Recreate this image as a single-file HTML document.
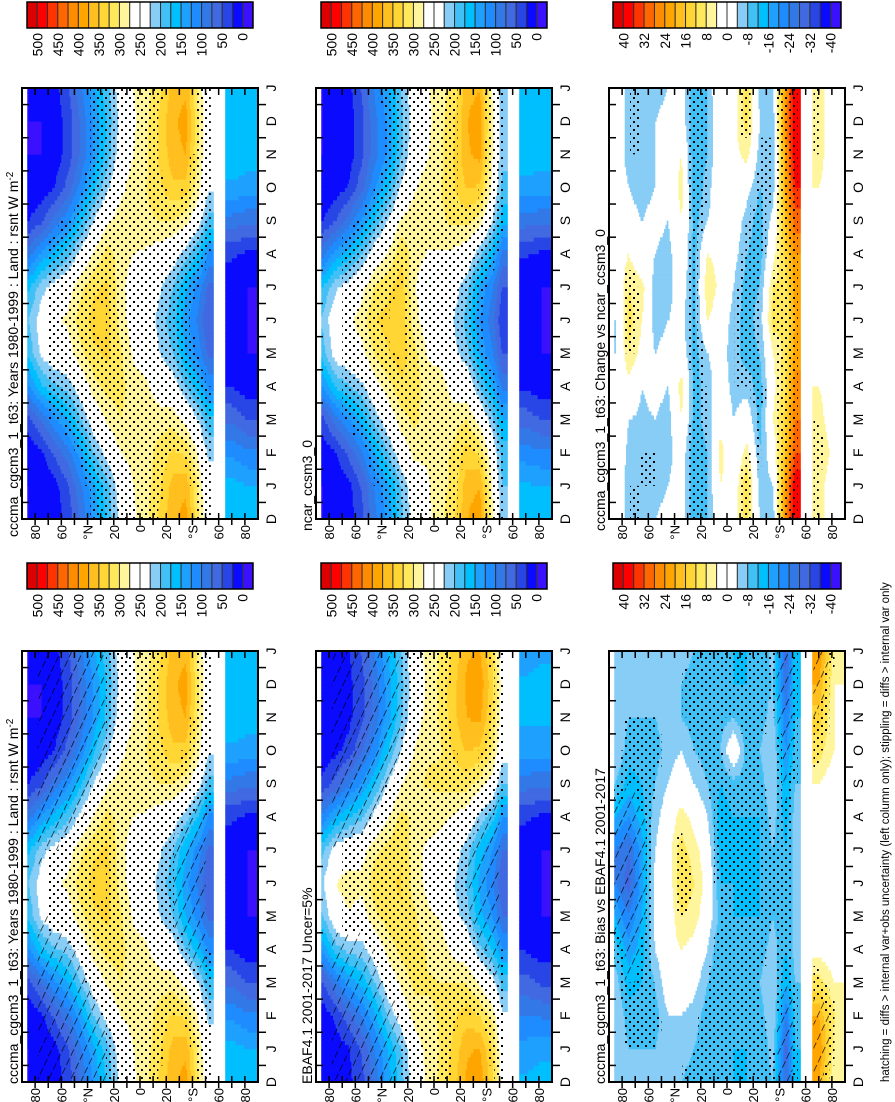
<!DOCTYPE html>
<html><head><meta charset="utf-8">
<style>
html,body{margin:0;padding:0;background:#fff;}
svg{display:block;font-family:"Liberation Sans",Arial,sans-serif;}
</style></head>
<body>
<svg id="fig" width="895" height="1102" viewBox="0 0 895 1102">
<defs>
<pattern id="dots" width="8" height="8" patternUnits="userSpaceOnUse"><rect x="1" y="1" width="2" height="2" fill="#000"/><rect x="5" y="5" width="2" height="2" fill="#000"/></pattern>
<pattern id="hatch" width="10" height="10" patternUnits="userSpaceOnUse" patternTransform="rotate(25)"><line x1="0" y1="0" x2="0" y2="10" stroke="#000" stroke-width="1.3" stroke-dasharray="7 3"/></pattern>
</defs>
</svg>
<script>
// ---------- data ----------
const lats = [85,75,65,55,45,35,25,15,5,-5,-15,-25,-35,-45,-52,-60,-70,-82];
const monthLabels = ["D","J","F","M","A","M","J","J","A","S","O","N","D","J"];
const latTickLabels = ["80","60","°N","20","0","20","°S","60","80"];
const latTickValues = [80,60,40,20,0,-20,-40,-60,-80];
const meanTickLabels = ["500","450","400","350","300","250","200","150","100","50","0"];
const diffTickLabels = ["40","32","24","16","8","0","-8","-16","-24","-32","-40"];

const cccmaVals = [
[0,0,5,40,120,180,200,170,90,25,2,0,0,0],
[0,2,20,80,170,235,245,215,130,45,8,0,0,2],
[10,15,55,120,195,255,270,240,160,85,25,10,10,15],
[35,45,90,150,210,260,280,260,190,120,60,35,35,45],
[80,95,140,200,250,295,315,295,240,170,110,80,80,95],
[130,145,200,250,290,320,335,320,280,230,170,130,130,145],
[180,190,240,280,310,330,335,330,310,270,220,185,180,190],
[235,245,275,300,310,305,290,285,290,290,265,245,235,245],
[270,275,285,290,285,270,255,255,275,290,290,275,270,275],
[295,290,290,290,280,260,245,250,270,295,300,295,295,290],
[330,320,310,290,255,225,215,230,260,300,320,330,330,320],
[370,360,330,290,245,200,185,200,245,300,345,365,370,360],
[385,370,320,265,200,150,135,155,210,285,340,375,385,370],
[300,290,265,220,160,110,90,110,170,240,280,295,300,290],
[250,240,220,180,120,70,50,70,120,190,230,245,250,240],
[null,null,null,null,null,null,null,null,null,null,null,null,null,null],
[175,160,120,70,25,5,0,5,30,90,145,170,175,160],
[165,150,105,50,10,0,0,0,20,80,140,160,165,150]];

const ncarVals = [
[0,0,5,42,124,186,206,174,92,25,2,0,0,0],
[2,4,23,86,178,244,253,221,135,49,11,2,2,4],
[12,17,57,123,197,255,268,239,162,87,27,12,12,17],
[43,53,97,158,220,266,288,266,199,128,68,43,43,53],
[92,105,149,210,262,304,324,302,250,180,121,92,92,105],
[130,145,198,250,290,323,335,318,279,230,170,130,130,145],
[192,202,252,290,320,340,345,340,320,280,232,197,192,202],
[243,253,283,306,316,309,286,277,286,294,271,253,243,253],
[268,271,279,288,285,272,255,253,273,290,288,273,268,271],
[293,290,292,294,286,266,251,254,272,295,298,293,293,290],
[320,308,304,290,261,235,225,240,268,306,322,324,320,308],
[374,366,338,300,255,208,191,208,255,310,353,371,374,366],
[391,374,320,261,198,146,125,147,208,287,346,383,391,374],
[274,266,247,206,148,100,82,100,156,222,258,271,274,266],
[210,200,188,152,94,48,30,48,96,160,194,205,210,200],
[null,null,null,null,null,null,null,null,null,null,null,null,null,null],
[169,154,112,64,21,3,0,3,28,86,141,164,169,154],
[165,150,105,50,10,0,0,0,20,80,140,160,165,150]];

const ebafVals = [
[4,4,9,46,130,196,224,194,106,33,6,4,4,4],
[6,10,30,94,188,259,275,243,150,59,18,8,6,10],
[18,23,65,132,209,271,288,258,174,97,35,18,18,23],
[41,53,100,158,214,262,282,264,196,128,70,43,41,53],
[84,101,144,200,248,295,315,293,240,174,116,86,84,101],
[138,151,204,250,286,312,323,310,274,230,174,138,138,151],
[190,198,246,282,308,324,327,324,308,274,228,195,190,198],
[247,257,285,308,314,305,288,285,294,298,275,257,247,257],
[280,285,297,302,297,280,267,269,289,302,298,285,280,285],
[307,302,302,300,290,272,257,262,282,305,298,303,307,302],
[342,332,320,300,265,237,227,242,272,310,330,342,342,332],
[380,372,340,298,255,212,197,212,257,310,353,375,380,372],
[393,376,324,269,206,158,143,163,216,289,344,381,393,376],
[328,320,289,236,172,122,102,122,184,256,300,319,328,320],
[262,252,230,188,126,76,56,76,126,198,240,257,262,252],
[null,null,null,null,null,null,null,null,null,null,null,null,null,null],
[155,136,100,60,23,5,0,5,30,86,135,156,155,136],
[161,144,97,46,10,0,0,0,20,80,136,156,161,144]];

const changeVals = [
[0,0,0,0,-2,-4,-4,-2,0,0,0,0,0,0],
[-6,-6,-5,-4,2,8,10,8,4,-2,-4,-6,-6,-6],
[-6,-6,-6,-5,-4,2,4,6,-2,-4,-6,-6,-6,-6],
[-4,-6,-6,-4,-2,-4,-6,-6,-4,-2,-4,-4,-4,-6],
[-2,-4,-6,-6,-4,-2,-4,-6,-6,-4,-2,-2,-2,-4],
[0,0,0,4,6,0,-2,0,2,4,6,4,0,0],
[-12,-12,-12,-10,-10,-10,-10,-10,-10,-10,-12,-12,-12,-12],
[-8,-8,-8,-6,-6,-4,4,8,4,-4,-6,-8,-8,-8],
[2,4,6,2,0,-2,0,2,2,0,2,2,2,4],
[2,0,-2,-4,-6,-6,-6,-4,-2,0,2,2,2,0],
[10,12,6,0,-6,-10,-10,-10,-8,-6,-2,6,10,12],
[-4,-6,-8,-10,-10,-8,-6,-8,-10,-10,-8,-6,-4,-6],
[-6,-4,0,4,2,4,10,8,2,-2,-6,-8,-6,-4],
[26,24,18,14,12,10,8,10,14,18,22,24,26,24],
[40,40,32,28,26,22,20,22,24,30,36,40,40,40],
[null,null,null,null,null,null,null,null,null,null,null,null,null,null],
[6,6,8,6,4,2,0,2,2,4,4,6,6,6],
[0,0,2,0,0,0,0,0,0,0,0,0,0,0]];

const biasVals = [
[-4,-4,-4,-6,-10,-16,-24,-24,-16,-8,-4,-4,-4,-4],
[-6,-8,-10,-14,-18,-24,-30,-28,-20,-14,-10,-8,-6,-8],
[-8,-8,-10,-12,-14,-16,-18,-18,-14,-12,-10,-8,-8,-8],
[-6,-8,-10,-8,-4,-2,-2,-4,-6,-8,-10,-8,-6,-8],
[-4,-6,-4,0,2,0,0,2,0,-4,-6,-6,-4,-6],
[-8,-6,-4,0,4,8,12,10,6,0,-4,-8,-8,-6],
[-10,-8,-6,-2,2,6,8,6,2,-4,-8,-10,-10,-8],
[-12,-12,-10,-8,-4,0,2,0,-4,-8,-10,-12,-12,-12],
[-10,-10,-12,-12,-12,-10,-12,-14,-14,-12,-8,-10,-10,-10],
[-12,-12,-12,-10,-10,-12,-12,-12,-12,-10,2,-8,-12,-12],
[-12,-12,-10,-10,-10,-12,-12,-12,-12,-10,-10,-12,-12,-12],
[-10,-12,-10,-8,-10,-12,-12,-12,-12,-10,-8,-10,-10,-12],
[-8,-6,-4,-4,-6,-8,-8,-8,-6,-4,-4,-6,-8,-6],
[-28,-30,-24,-16,-12,-12,-12,-12,-14,-16,-20,-24,-28,-30],
[-12,-12,-10,-8,-6,-6,-6,-6,-6,-8,-10,-12,-12,-12],
[null,null,null,null,null,null,null,null,null,null,null,null,null,null],
[20,24,20,10,2,0,0,0,0,4,10,14,20,24],
[4,6,8,4,0,0,0,0,0,0,4,4,4,6]];

// ---------- styling ----------
const palette = ["#dc0000","#ff0000","#ff3300","#ff6600","#ff8c00","#ffa500","#ffbf1f","#ffd633","#ffe95a","#fff59c","#ffffff","#ffffff","#87cdf5","#40c0f5","#00bfff","#1ea0ff","#1e8cff","#3278e6","#4169e1","#2846e6","#0a0aff","#3a10ff"];
const NS = "http://www.w3.org/2000/svg";
const svg = document.getElementById("fig");
function el(tag, attrs, parent){const e=document.createElementNS(NS,tag);for(const k in attrs)e.setAttribute(k,attrs[k]);(parent||svg).appendChild(e);return e;}

function meanIndex(v){return Math.max(0,Math.min(21,Math.floor((500-v)/25)+1));}
function diffIndex(v){return Math.max(0,Math.min(21,Math.floor((40-v)/4)+1));}

function sample(vals, lat, t){
  if(lat>86) return null;
  let i0, i1, f;
  if(lat>=lats[0]){i0=i1=0;f=0;}
  else if(lat<=lats[lats.length-1]){i0=i1=lats.length-1;f=0;}
  else{for(let i=0;i<lats.length-1;i++){if(lat<=lats[i]&&lat>=lats[i+1]){i0=i;i1=i+1;f=(lats[i]-lat)/(lats[i]-lats[i+1]);break;}}}
  const tc=Math.max(0,Math.min(13,t));const t0=Math.floor(tc),t1=Math.min(13,t0+1),g=tc-t0;
  function rowVal(r){const a=vals[r][t0],b=vals[r][t1];if(a===null||b===null)return null;return a+(b-a)*g;}
  const a=rowVal(i0),b=rowVal(i1);
  if(a===null||b===null){return f<0.5?a:b;}
  return a+(b-a)*f;
}

function drawPanel(p){
  const g=el("g",{});
  
  
  const L=p.x,T=p.y,W=p.w,H=p.h,B=T+H,R=L+W;
  const xOf=lat=>L+(90-lat)*W/180;
  const yOf=t=>B-t*H/13;
  const field=el("g",{},g);
  
  
  const dt=1/8, dl=1;
  for(let t=0;t<13;t+=dt){
    const tm=t+dt/2;
    let runStart=90, runCol=null;
    for(let lat=90;lat>-90-1e-9;lat-=dl){
      let col;
      if(lat<=-90+1e-9){col="__end";}
      else{const v=sample(p.vals,lat-dl/2,tm);col=v===null?"#ffffff":palette[p.idx(v)];}
      if(col!==runCol){
        if(runCol!==null && runCol!=="#ffffff"){
          const r=el("rect",{x:xOf(runStart).toFixed(2),y:yOf(t+dt).toFixed(2),width:(xOf(lat)-xOf(runStart)+0.4).toFixed(2),height:(H*dt/13+0.4).toFixed(2),fill:runCol},field);
          
          
        }
        runStart=lat;runCol=col;
      }
    }
  }
  if(p.overlay){
    const ov=el("g",{},g);
    
    
    const ot=0.5, ol=4;
    for(let t=0;t<13;t+=ot){
      for(let lat=86;lat>-90;lat-=ol){
        const v=sample(p.vals,lat-ol/2,t+ot/2);
        if(v===null) continue;
        const kind=p.overlay(v,lat-ol/2);
        if(!kind) continue;
        const r=el("rect",{x:xOf(lat).toFixed(2),y:yOf(t+ot).toFixed(2),width:(ol*W/180).toFixed(2),height:(ot*H/13).toFixed(2),fill:kind==="h"?"url(#hatch)":"url(#dots)"},ov);
        
        
      }
    }
  }
  const fr=el("rect",{x:L,y:T,width:W,height:H,fill:"none",stroke:"#000","stroke-width":2},g);
  
  
  for(let lat=-80;lat<=80;lat+=10){
    const x=xOf(lat);
    el("line",{x1:x,y1:T,x2:x,y2:T+7,stroke:"#000","stroke-width":1.5},g);
    el("line",{x1:x,y1:B-6,x2:x,y2:B+6,stroke:"#000","stroke-width":1.5},g);
  }
  latTickValues.forEach((lv,i)=>{
    const tx=el("text",{transform:`translate(${xOf(lv)+5},${B+6}) rotate(-90)`,"text-anchor":"end","font-size":13},g);
    tx.textContent=latTickLabels[i];
    
    
  });
  for(let t=0;t<13;t++){
    const y=yOf(t+0.5);
    el("line",{x1:R,y1:y,x2:R+8,y2:y,stroke:"#000","stroke-width":1.5},g);
    el("line",{x1:L,y1:y,x2:L+7,y2:y,stroke:"#000","stroke-width":1.5},g);
  }
  monthLabels.forEach((m,t)=>{
    const tx=el("text",{transform:`translate(${R+18},${yOf(t)}) rotate(-90)`,"text-anchor":"middle","font-size":14},g);
    tx.textContent=m;
    
    
  });
  const ti=el("text",{transform:`translate(${L-4},${B+p.tOff}) rotate(-90)`,"font-size":14},g);
  ti.innerHTML=p.title;
  
  
}

function drawColorbar(x,y,w,h,labels,name){
  const g=el("g",{});
  
  
  const bw=w/22;
  palette.forEach((c,i)=>{
    const r=el("rect",{x:x+i*bw,y:y,width:bw,height:h,fill:c,stroke:"#333","stroke-width":1},g);
    
    
  });
  el("rect",{x:x,y:y,width:w,height:h,fill:"none",stroke:"#000","stroke-width":1.5},g);
  labels.forEach((lb,i)=>{
    const bx=x+(1+2*i)*bw;
    const tx=el("text",{transform:`translate(${bx+5},${y+h+5}) rotate(-90)`,"text-anchor":"end","font-size":14},g);
    tx.textContent=lb;
    
    
  });
}

const meanStip=(v,lat)=> (lat>-60 && lat<70 && v>120 && v<330) ? "d" : null;
const meanHatch=(v,lat)=> (lat>25 && lat<80 && v<230) || (lat<-25 && lat>-52 && v<200) ? "h" : ((lat>-60 && lat<70 && v>120 && v<330) ? "d" : null);
const diffStip=(v,lat)=> Math.abs(v)>=6 ? "d" : null;
const biasHatch=(v,lat)=> Math.abs(v)>=14 ? "h" : (Math.abs(v)>=8 ? "d" : null);

const tMain='cccma_cgcm3_1_t63: Years 1980-1999 : Land : rsnt W m<tspan dy="-5" font-size="10">-2</tspan>';
const cols=[22,316,609];
const rowsY=[88,651];
const PW=236,PH=431;
drawPanel({name:"panel-cccma-top",x:cols[0],y:rowsY[0],w:PW,h:PH,vals:cccmaVals,idx:meanIndex,title:tMain,tOff:18,overlay:meanStip});
drawPanel({name:"panel-ncar",x:cols[1],y:rowsY[0],w:PW,h:PH,vals:ncarVals,idx:meanIndex,title:"ncar_ccsm3_0",tOff:12,overlay:meanStip});
drawPanel({name:"panel-change",x:cols[2],y:rowsY[0],w:PW,h:PH,vals:changeVals,idx:diffIndex,title:"cccma_cgcm3_1_t63: Change vs ncar_ccsm3_0",tOff:12,overlay:diffStip});
drawPanel({name:"panel-cccma-bottom",x:cols[0],y:rowsY[1],w:PW,h:PH,vals:cccmaVals,idx:meanIndex,title:tMain,tOff:2,overlay:meanHatch});
drawPanel({name:"panel-ebaf",x:cols[1],y:rowsY[1],w:PW,h:PH,vals:ebafVals,idx:meanIndex,title:"EBAF4.1 2001-2017 Uncer=5%",tOff:2,overlay:meanHatch});
drawPanel({name:"panel-bias",x:cols[2],y:rowsY[1],w:PW,h:PH,vals:biasVals,idx:diffIndex,title:"cccma_cgcm3_1_t63: Bias vs EBAF4.1 2001-2017",tOff:2,overlay:biasHatch});

drawColorbar(27,2,226,26,meanTickLabels,"colorbar-cccma-top");
drawColorbar(321,2,226,26,meanTickLabels,"colorbar-ncar");
drawColorbar(613,2,228,26,diffTickLabels,"colorbar-change");
drawColorbar(27,563,226,26,meanTickLabels,"colorbar-cccma-bottom");
drawColorbar(321,563,226,26,meanTickLabels,"colorbar-ebaf");
drawColorbar(613,563,228,26,diffTickLabels,"colorbar-bias");

const foot=el("text",{transform:"translate(889,1082) rotate(-90)","font-size":11.5});
foot.textContent="hatching = diffs > internal var+obs uncertainty (left column only); stippling = diffs > internal var only";


</script>
</body></html>
